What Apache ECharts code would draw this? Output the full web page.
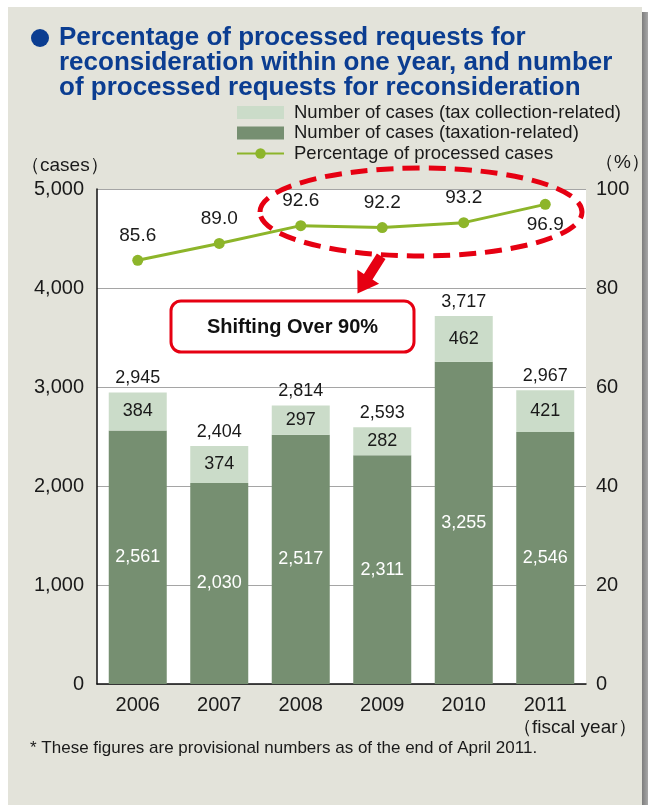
<!DOCTYPE html>
<html><head><meta charset="utf-8">
<script src="https://cdn.jsdelivr.net/npm/echarts@6/dist/echarts.min.js"></script>
<style>
html,body{margin:0;padding:0;background:#fff;width:648px;height:805px;overflow:hidden}
#panel{position:absolute;left:8px;top:7px;width:634px;height:798px;background:#e3e3da}
#shadow{position:absolute;left:642px;top:12px;width:6px;height:793px;background:linear-gradient(to right,#7d7d7d,#a8a8a8)}
#chart{position:absolute;left:0;top:0;width:648px;height:805px}
</style></head>
<body>
<div id="panel"></div><div id="shadow"></div>
<div id="chart"></div>
<script>
const categories = ['2006','2007','2008','2009','2010','2011'];
const taxationCases = [2561, 2030, 2517, 2311, 3255, 2546];
const collectionCases = [384, 374, 297, 282, 462, 421];
const totalCases = [2945, 2404, 2814, 2593, 3717, 2967];
const processedPct = [85.6, 89.0, 92.6, 92.2, 93.2, 96.9];
const leftAxisRange = [0, 5000, 1000];
const rightAxisRange = [0, 100, 20];
const seriesNames = ['Number of cases (tax collection-related)','Number of cases (taxation-related)','Percentage of processed cases'];

const FONT = '"Liberation Sans", Arial, sans-serif';
const fmt = v => v.toLocaleString('en-US');
const chart = echarts.init(document.getElementById('chart'), null, {renderer:'canvas'});

// arrow polygon (annotation shape)
const arrowPts = [[385.5,259.0],[372.5,279.5],[379.1,283.7],[357.5,293.5],[357.3,269.7],[363.9,273.9],[376.9,253.5]];

chart.setOption({
  animation:false,
  textStyle:{fontFamily:FONT},
  grid:{left:97,right:62,top:189,bottom:121,show:true,backgroundColor:'#fff',borderWidth:0},
  legend:{
    orient:'vertical',left:236,top:103,padding:0,itemWidth:47,itemHeight:13,itemGap:1.5,
    textStyle:{fontFamily:FONT,fontSize:18.5,color:'#1a1a1a',padding:[0,0,0,5]},
    data:[{name:seriesNames[0],icon:'rect'},{name:seriesNames[1],icon:'rect'},{name:seriesNames[2]}]
  },
  xAxis:{
    type:'category',data:categories,
    axisLine:{lineStyle:{color:'#111',width:1.5}},
    axisTick:{inside:true,length:10,lineStyle:{color:'#333'}},
    axisLabel:{fontSize:20,color:'#1a1a1a',margin:11,fontFamily:FONT}
  },
  yAxis:[
    {type:'value',min:leftAxisRange[0],max:leftAxisRange[1],interval:leftAxisRange[2],
     axisLine:{show:true,lineStyle:{color:'#111',width:1.5}},axisTick:{show:false},
     splitLine:{lineStyle:{color:'#a5a5a5',width:1}},
     axisLabel:{fontSize:20,color:'#1a1a1a',margin:13,formatter:v=>fmt(v),fontFamily:FONT}},
    {type:'value',min:rightAxisRange[0],max:rightAxisRange[1],interval:rightAxisRange[2],
     axisLine:{show:false},axisTick:{show:false},splitLine:{show:false},
     axisLabel:{fontSize:20,color:'#1a1a1a',margin:10,fontFamily:FONT}}
  ],
  series:[
    {name:'total',type:'bar',data:totalCases,barWidth:58,barGap:'-100%',z:1,
     itemStyle:{color:'rgba(0,0,0,0)'},silent:true,
     label:{show:true,position:'top',distance:5,fontSize:18,color:'#1a1a1a',formatter:p=>fmt(p.value)}},
    {name:seriesNames[1],type:'bar',stack:'cases',data:taxationCases,barWidth:58,z:2,
     itemStyle:{color:'#768f71'},
     label:{show:true,position:'inside',fontSize:18,color:'#fff',formatter:p=>fmt(p.value)}},
    {name:seriesNames[0],type:'bar',stack:'cases',data:collectionCases,barWidth:58,z:2,
     itemStyle:{color:'#cbdcc9'},
     label:{show:true,position:'inside',fontSize:18,color:'#1a1a1a',formatter:p=>fmt(p.value)}},
    {name:seriesNames[2],type:'line',yAxisIndex:1,z:5,
     data:processedPct.map((v,i)=>i===processedPct.length-1?{value:v,label:{position:'bottom',distance:5}}:v),
     symbol:'circle',symbolSize:11,lineStyle:{color:'#8db52a',width:3},itemStyle:{color:'#8db52a'},
     label:{show:true,position:'top',distance:10,fontSize:19,color:'#1a1a1a',formatter:p=>p.value.toFixed(1)}}
  ],
  graphic:[
    {type:'circle',shape:{cx:40,cy:38,r:9},style:{fill:'#0b3d91'}},
    {type:'text',left:59,top:25,style:{text:'Percentage of processed requests for\nreconsideration within one year, and number\nof processed requests for reconsideration',
      font:'bold 26px '+FONT,fill:'#0b3d91',lineHeight:25}},
    {type:'text',left:21,top:156,style:{text:'（cases）',font:'19px '+FONT,fill:'#1a1a1a'}},
    {type:'text',left:595,top:153,style:{text:'（%）',font:'19px '+FONT,fill:'#1a1a1a'}},
    {type:'text',left:513,top:718,style:{text:'（fiscal year）',font:'19px '+FONT,fill:'#1a1a1a'}},
    {type:'text',left:30,top:740,style:{text:'* These figures are provisional numbers as of the end of April 2011.',font:'17px '+FONT,fill:'#1a1a1a'}},
    {type:'ellipse',shape:{cx:421,cy:212,rx:161,ry:44},z:10,style:{fill:'none',stroke:'#e60012',lineWidth:5,lineDash:[17,9]}},
    {type:'polygon',shape:{points:arrowPts},z:10,style:{fill:'#e60012'}},
    {type:'rect',shape:{x:171,y:301,width:243,height:51,r:10},z:10,style:{fill:'#fff',stroke:'#e60012',lineWidth:3}},
    {type:'text',x:292.5,y:327,z:11,style:{text:'Shifting Over 90%',font:'bold 20px '+FONT,fill:'#111',align:'center',verticalAlign:'middle'}}
  ]
});
</script>
</body></html>
